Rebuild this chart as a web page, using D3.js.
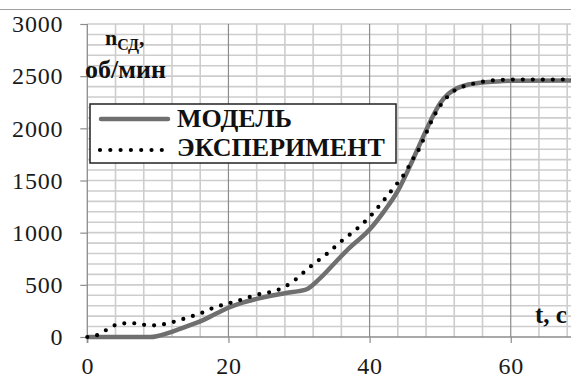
<!DOCTYPE html>
<html>
<head>
<meta charset="utf-8">
<script src="https://cdn.jsdelivr.net/npm/d3@7"></script>
<style>
  html, body { margin: 0; padding: 0; background: #fff; }
  svg { display: block; }
  svg text { font-family: "Liberation Serif", "Times New Roman", serif; }
</style>
</head>
<body>
<svg id="chart" width="571" height="378"></svg>
<script>
// Motor speed n (rpm) vs time t (s): model and experiment
const modelT = [0, 9, 10, 12, 14, 16, 18, 20, 22, 24, 26, 28, 30, 31, 33, 35, 37, 40, 42, 44, 46, 47, 48, 49, 50, 51, 52, 54, 56, 58, 60, 70];
const modelN = [0, 0, 10, 50, 100, 150, 215, 280, 330, 365, 395, 420, 440, 455, 565, 705, 845, 1030, 1200, 1400, 1680, 1830, 1980, 2120, 2240, 2320, 2370, 2420, 2440, 2450, 2455, 2460];

const expT = [0, 1.5, 3, 4, 5.5, 7, 8, 9.5, 11, 12.5, 14, 16, 18, 20, 22, 24, 26, 27.5, 29, 30, 31, 32, 34, 36, 38, 40, 42, 44, 45, 46, 47, 48, 49, 50, 51, 52, 53.5, 55, 56.5, 58, 60, 70];
const expN = [0, 20, 80, 115, 132, 132, 117, 112, 125, 150, 182, 225, 283, 322, 361, 405, 432, 465, 525, 578, 640, 695, 800, 918, 1025, 1150, 1310, 1480, 1570, 1690, 1800, 1950, 2100, 2215, 2300, 2360, 2406, 2432, 2452, 2462, 2467, 2468];

const xTicks = [0, 20, 40, 60];
const yTicks = [0, 500, 1000, 1500, 2000, 2500, 3000];
const xMinor = d3.range(0, 72, 4);
const yMinor = d3.range(0, 3001, 100);

const seriesNames = ["МОДЕЛЬ", "ЭКСПЕРИМЕНТ"];

const serif = '"Liberation Serif", "Times New Roman", serif';
const svg = d3.select("#chart");

const x = d3.scaleLinear().domain([0, 70]).range([87.3, 581.3]);
const y = d3.scaleLinear().domain([0, 3000]).range([337, 24]);

// outer frame line at the top
svg.append("line").attr("x1", 0).attr("x2", 571).attr("y1", 9.5).attr("y2", 9.5)
  .attr("stroke", "#a0a0a0").attr("stroke-width", 1.2);

// minor gridlines
const grid = svg.append("g");
grid.selectAll("line.hy").data(yMinor.filter(d => d > 0)).join("line")
  .attr("x1", x(0)).attr("x2", 571)
  .attr("y1", d => y(d)).attr("y2", d => y(d))
  .attr("stroke", "#cdcdcd").attr("stroke-width", 1.6);
grid.selectAll("line.vx").data(xMinor.filter(d => d > 0 && d % 20 !== 0)).join("line")
  .attr("x1", d => x(d)).attr("x2", d => x(d))
  .attr("y1", y(3000)).attr("y2", y(0))
  .attr("stroke", "#cdcdcd").attr("stroke-width", 1.6);
// major vertical gridlines
grid.selectAll("line.vmaj").data(xTicks.filter(d => d > 0)).join("line")
  .attr("x1", d => x(d)).attr("x2", d => x(d))
  .attr("y1", y(3000)).attr("y2", y(0))
  .attr("stroke", "#8c8c8c").attr("stroke-width", 1.2);

// axes
const xAxis = svg.append("g").attr("transform", `translate(0,${y(0)})`)
  .call(d3.axisBottom(x).tickValues(xTicks).tickSize(6).tickPadding(14).tickFormat(d3.format("d")));
const yAxis = svg.append("g").attr("transform", `translate(${x(0)},0)`)
  .call(d3.axisLeft(y).tickValues(yTicks).tickSize(7).tickPadding(17).tickFormat(d3.format("d")));
[xAxis, yAxis].forEach(a => {
  a.attr("font-family", null).attr("font-size", null);
  a.select(".domain").attr("stroke", "#8c8c8c").attr("stroke-width", 1.3);
  a.selectAll(".tick line").attr("stroke", "#8c8c8c").attr("stroke-width", 1.2);
  a.selectAll(".tick text").attr("fill", "#1a1a1a")
    .style("font-family", serif).style("font-size", "24px").style("letter-spacing", "0.8px");
});
xAxis.select(".domain").attr("d", `M${x(0)},0H571`);
yAxis.select(".domain").attr("d", `M0,${y(3000)}V${y(0) + 6}`);
xAxis.selectAll(".tick text").attr("dy", "0.71em");

// series
const line = d3.line().x(d => x(d[0])).y(d => y(d[1])).curve(d3.curveMonotoneX);
const model = modelT.map((t, i) => [t, modelN[i]]);
const exper = expT.map((t, i) => [t, expN[i]]);

svg.append("path").datum(model).attr("d", line)
  .attr("fill", "none").attr("stroke", "#6f6f6f").attr("stroke-width", 4.5)
  .attr("stroke-linejoin", "round");
svg.append("path").datum(exper).attr("d", line)
  .attr("fill", "none").attr("stroke", "#000").attr("stroke-width", 4.2)
  .attr("stroke-linecap", "round").attr("stroke-dasharray", "0 10");

// axis titles
const yt = svg.append("text").attr("x", 105).attr("y", 45)
  .attr("font-weight", "bold").attr("fill", "#111").style("font-size", "22px");
yt.append("tspan").text("n");
yt.append("tspan").style("font-size", "16px").attr("dy", 5).text("СД");
yt.append("tspan").attr("dy", -5).text(",");
svg.append("text").attr("x", 85).attr("y", 78)
  .attr("font-weight", "bold").attr("fill", "#111").style("font-size", "26px")
  .text("об/мин");
svg.append("text").attr("x", 535).attr("y", 323)
  .attr("font-weight", "bold").attr("fill", "#111").style("font-size", "25px")
  .text("t, c");

// legend
const lg = svg.append("g");
lg.append("rect").attr("x", 90).attr("y", 104).attr("width", 306).attr("height", 59)
  .attr("fill", "#fff").attr("stroke", "#222").attr("stroke-width", 1.5);
lg.append("line").attr("x1", 101).attr("x2", 168).attr("y1", 119).attr("y2", 119)
  .attr("stroke", "#6f6f6f").attr("stroke-width", 4.5).attr("stroke-linecap", "round");
lg.append("line").attr("x1", 100).attr("x2", 162).attr("y1", 150).attr("y2", 150)
  .attr("stroke", "#000").attr("stroke-width", 4.2)
  .attr("stroke-linecap", "round").attr("stroke-dasharray", "0 10.3");
lg.selectAll("text").data(seriesNames).join("text")
  .attr("x", 177).attr("y", (d, i) => 127 + i * 29)
  .attr("font-weight", "bold").style("font-size", "26px").attr("fill", "#111")
  .text(d => d);
</script>
</body>
</html>
